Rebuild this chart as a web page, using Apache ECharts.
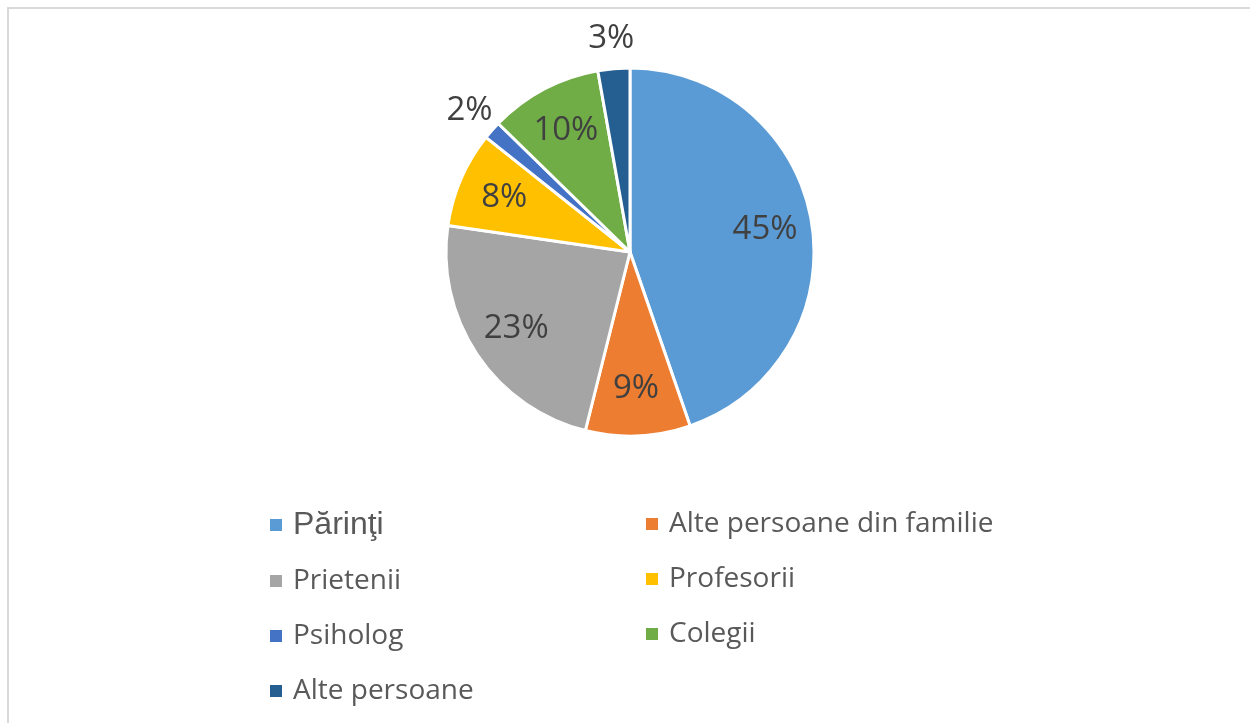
<!DOCTYPE html>
<html>
<head>
<meta charset="utf-8">
<script src="https://cdn.jsdelivr.net/npm/echarts@6/dist/echarts.min.js"></script>
<style>
    html, body { margin: 0; padding: 0; background: #fff; }
    #main { position: absolute; left: 0; top: 0; width: 1250px; height: 723px; }
    .frame { position: absolute; left: 7px; top: 7px; width: 1300px; height: 800px; border: 2px solid #d9d9d9; }
</style>
</head>
<body>
<div class="frame"></div>
<div id="main"></div>
<script>
    var names = ['Părinţi', 'Alte persoane din familie', 'Prietenii', 'Profesorii', 'Psiholog', 'Colegii', 'Alte persoane'];
    var values = [44.7, 9.2, 23.4, 8.4, 1.6, 9.9, 2.8];
    var colors = ['#5B9BD5', '#ED7D31', '#A5A5A5', '#FFC000', '#4472C4', '#70AD47', '#255E91'];
    // labels drawn outside the pie (small slices)
    var outsideNames = ['Psiholog', 'Alte persoane'];

    var leftLegend = ['Părinţi', 'Prietenii', 'Psiholog', 'Alte persoane'];
    var rightLegend = ['Alte persoane din familie', 'Profesorii', 'Colegii'];

    var cx = 630, cy = 252, r = 184;

    function pct(v) {
        return Math.round(v) + '%';
    }

    var pieData = names.map(function (n, i) {
        return { name: n, value: values[i], itemStyle: { color: colors[i] } };
    });
    var innerLabelData = names.map(function (n, i) {
        return { name: n, value: values[i], label: { show: outsideNames.indexOf(n) < 0 } };
    });
    var outerLabelData = names.map(function (n, i) {
        return { name: n, value: values[i], label: { show: outsideNames.indexOf(n) >= 0 } };
    });

    var labelText = {
        position: 'inside',
        formatter: function (p) { return pct(p.value); },
        fontFamily: 'Open Sans',
        fontSize: 33,
        color: '#404040'
    };

    var legendBase = {
        orient: 'vertical',
        top: 509,
        padding: 0,
        itemWidth: 14,
        itemHeight: 14,
        itemGap: 25,
        icon: 'rect',
        selectedMode: false,
        formatter: function (n) {
            return n === 'Părinţi' ? '{p|' + n + '}' : n;
        },
        textStyle: {
            fontFamily: 'Open Sans',
            fontSize: 28,
            color: '#595959',
            lineHeight: 30,
            padding: [0, 0, 0, 5],
            rich: {
                p: { fontFamily: 'Liberation Sans', fontSize: 32, color: '#595959', lineHeight: 30 }
            }
        }
    };

    var chart = echarts.init(document.getElementById('main'));
    var option = {
        animation: false,
        legend: [
            Object.assign({}, legendBase, { left: 268, data: leftLegend }),
            Object.assign({}, legendBase, { left: 644, data: rightLegend })
        ],
        series: [
            {
                type: 'pie',
                center: [cx, cy],
                radius: [0, r],
                startAngle: 90,
                clockwise: true,
                silent: true,
                label: { show: false },
                labelLine: { show: false },
                itemStyle: { borderColor: '#fff', borderWidth: 3 },
                data: pieData
            },
            {
                type: 'pie',
                center: [cx, cy],
                radius: [84, r],
                startAngle: 90,
                silent: true,
                itemStyle: { color: 'rgba(0,0,0,0)' },
                label: labelText,
                labelLine: { show: false },
                data: innerLabelData
            },
            {
                type: 'pie',
                center: [cx, cy],
                radius: [r, 238],
                startAngle: 90,
                silent: true,
                itemStyle: { color: 'rgba(0,0,0,0)' },
                label: labelText,
                labelLine: { show: false },
                data: outerLabelData
            }
        ]
    };
    chart.setOption(option);
</script>
</body>
</html>
